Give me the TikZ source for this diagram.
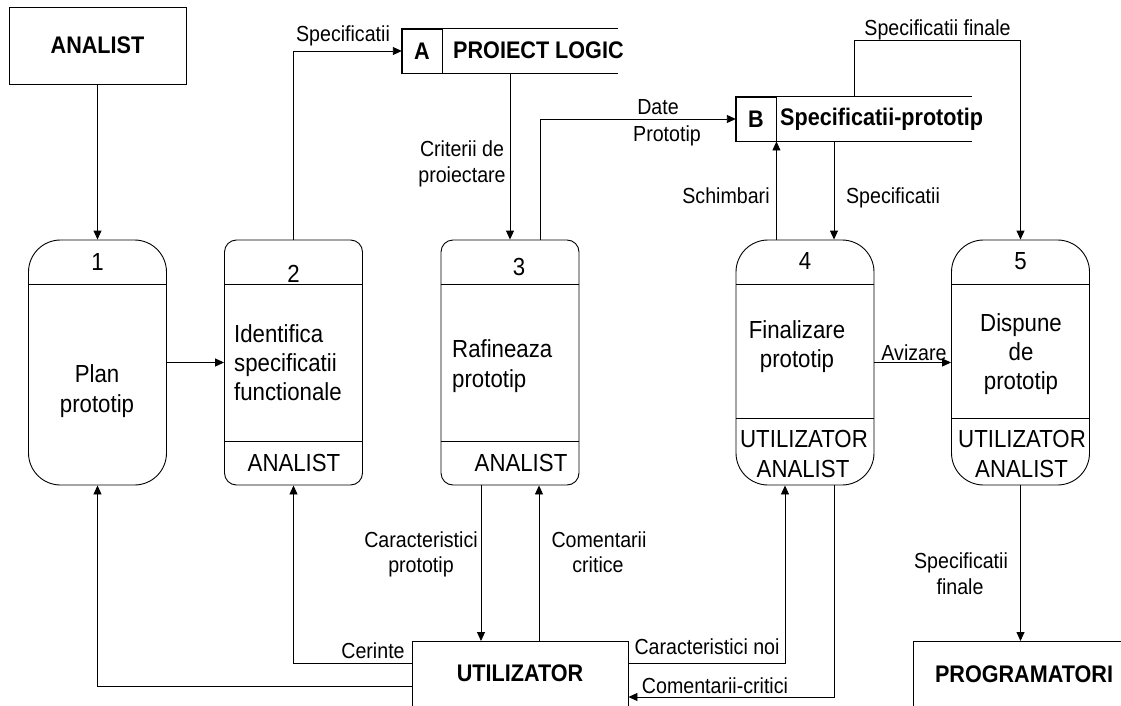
\documentclass[tikz,border=0pt]{standalone}
\usepackage{fontspec}
\setmainfont{Liberation Sans}[FakeStretch=0.9]
\usetikzlibrary{arrows.meta}

% font sizes
\newcommand\lblfont{\fontsize{21.8pt}{26pt}\selectfont}
\newcommand\procfont{\fontsize{24.7pt}{30pt}\selectfont}
\newcommand\heavyfont{\fontsize{24pt}{28pt}\selectfont\bfseries}

\tikzset{
  wire/.style={draw=black, line width=0.9pt},
  flow/.style={wire, -{Triangle[length=9pt,width=8pt]}},
  extbox/.style={draw=black, line width=0.9pt, inner sep=0pt, font=\heavyfont},
  procbox/.style={draw=black, line width=0.9pt, inner sep=0pt,
    minimum width=138pt, minimum height=245pt},
  roundproc/.style={procbox, rounded corners=32pt},
  squareproc/.style={procbox, rounded corners=12pt},
  storebox/.style={inner sep=0pt, minimum height=44pt},
  storekey/.style={draw=black, line width=0.9pt, inner sep=0pt,
    minimum width=40pt, minimum height=44pt, font=\heavyfont},
  heavytxt/.style={inner sep=0pt, font=\heavyfont},
  lbl/.style={inner sep=0pt, font=\lblfont, anchor=base},
  ptxt/.style={inner sep=0pt, font=\procfont, anchor=base},
  ptxtl/.style={ptxt, anchor=base west},
}

\begin{document}
\begin{tikzpicture}[x=1pt,y=-1pt]
\useasboundingbox (0,0) rectangle (1121,706);
\fill[white] (0,0) rectangle (1121,706);
\clip (0,0) rectangle (1121,706);

% external entities
\node[extbox, minimum width=177pt, minimum height=77pt] (an) at (97.5,45.5) {ANALIST};
\node[extbox, anchor=north, minimum width=216pt, minimum height=140pt] (ut) at (520,641) {};
\node[heavytxt] (utl) at (520,673.5) {UTILIZATOR};
\node[extbox, anchor=north, minimum width=222pt, minimum height=140pt] (prog) at (1024,641) {};
\node[heavytxt] (progl) at (1024,674.5) {PROGRAMATORI};

% data stores (open on the right)
\node[storebox, minimum width=216pt] (sA) at (510,51) {};
\draw[wire] (sA.north east) -- (sA.north west) -- (sA.south west) -- (sA.south east);
\node[storekey] (sAk) at (422,51) {A};
\node[heavytxt, anchor=base west] (sAt) at (453,59) {PROIECT LOGIC};

\node[storebox, minimum width=236pt] (sB) at (854,119) {};
\draw[wire] (sB.north east) -- (sB.north west) -- (sB.south west) -- (sB.south east);
\node[storekey] (sBk) at (756,119) {B};
\node[heavytxt, anchor=base west] (sBt) at (780,126) {Specificatii-prototip};

% processes
\node[roundproc] (p1) at (97.5,362.5) {};
\node[squareproc] (p2) at (293.5,362.5) {};
\node[squareproc] (p3) at (510,362.5) {};
\node[roundproc] (p4) at (805,362.5) {};
\node[roundproc] (p5) at (1020.5,362.5) {};

% process dividers
\foreach \p in {p1,p2,p3,p4,p5}
  \draw[wire] ([yshift=-45pt]\p.north west) -- ([yshift=-45pt]\p.north east);
\foreach \p in {p2,p3}
  \draw[wire] ([yshift=44pt]\p.south west) -- ([yshift=44pt]\p.south east);
\foreach \p in {p4,p5}
  \draw[wire] ([yshift=67pt]\p.south west) -- ([yshift=67pt]\p.south east);

% process texts
\node[ptxt] (n1) at (97.5,270) {1};
\node[ptxt] (t1a) at (97,382) {Plan};
\node[ptxt] (t1b) at (97,412) {prototip};

\node[ptxt] (n2) at (293.5,282) {2};
\node[ptxtl] (t2a) at (234,342) {Identifica};
\node[ptxtl] (t2b) at (234,371) {specificatii};
\node[ptxtl] (t2c) at (234,400) {functionale};
\node[ptxt] (r2) at (294,471) {ANALIST};

\node[ptxt] (n3) at (519,275) {3};
\node[ptxtl] (t3a) at (452,357) {Rafineaza};
\node[ptxtl] (t3b) at (452,387) {prototip};
\node[ptxt] (r3) at (521,471) {ANALIST};

\node[ptxt] (n4) at (805,269) {4};
\node[ptxt] (t4a) at (797,338) {Finalizare};
\node[ptxt] (t4b) at (797,367) {prototip};
\node[ptxt] (r4a) at (804,447) {UTILIZATOR};
\node[ptxt] (r4b) at (803,477) {ANALIST};

\node[ptxt] (n5) at (1020.5,269) {5};
\node[ptxt] (t5a) at (1021,331) {Dispune};
\node[ptxt] (t5b) at (1021,360) {de};
\node[ptxt] (t5c) at (1021,389) {prototip};
\node[ptxt] (r5a) at (1022,447) {UTILIZATOR};
\node[ptxt] (r5b) at (1021.5,477) {ANALIST};

% data flows
\draw[flow] (an.south) -- (p1.north);
\draw[flow] (p1.east) -- (p2.west);
\draw[flow] (p2.north) |- (sA.west);
\draw[flow] (sA.south) -- (p3.north);
\draw[flow] ([xshift=30pt]p3.north) |- (sB.west);
\draw[flow] (p4.north -| sBk.east) -- (sBk.south east);
\draw[flow] ([xshift=-20pt]sB.south) -- ([xshift=-20pt]sB.south |- p4.north);
\draw[flow] (sB.north) -- ++(0,-56) -| (p5.north);
\draw[flow] (p4.east) -- (p5.west);
\draw[flow] ([yshift=-45pt]ut.north west) -| (p1.south);
\draw[flow] ([yshift=-22pt]ut.north west) -| (p2.south);
\draw[flow] ([xshift=-29pt]p3.south) -- ([xshift=-29pt]p3.south |- ut.north);
\draw[flow] ([xshift=29pt]p3.south |- ut.north) -- ([xshift=29pt]p3.south);
\draw[flow] ([yshift=-22pt]ut.north east) -| ([xshift=-20pt]p4.south);
\draw[flow] ([xshift=29pt]p4.south) |- ([yshift=-56pt]ut.north east);
\draw[flow] (p5.south) -- (p5.south |- prog.north);

% flow labels
\node[lbl] (lSpec) at (343,42) {Specificatii};
\node[lbl] (lCrit1) at (462,157) {Criterii de};
\node[lbl] (lCrit2) at (462,182) {proiectare};
\node[lbl] (lDate1) at (658,115) {Date};
\node[lbl] (lDate2) at (667,142) {Prototip};
\node[lbl] (lSchimb) at (726,203) {Schimbari};
\node[lbl] (lSpecB) at (893,203) {Specificatii};
\node[lbl] (lSpecFin) at (937.5,36) {Specificatii finale};
\node[lbl] (lAviz) at (914,360) {Avizare};
\node[lbl] (lCar1) at (421,547) {Caracteristici};
\node[lbl] (lCar2) at (421,572) {prototip};
\node[lbl] (lCom1) at (599,547) {Comentarii};
\node[lbl] (lCom2) at (598,572) {critice};
\node[lbl] (lCer) at (373,658) {Cerinte};
\node[lbl] (lCarNoi) at (707,654) {Caracteristici noi};
\node[lbl] (lComCrit) at (715,693) {Comentarii-critici};
\node[lbl] (lFin1) at (961,568) {Specificatii};
\node[lbl] (lFin2) at (960,594) {finale};
\end{tikzpicture}
\end{document}
